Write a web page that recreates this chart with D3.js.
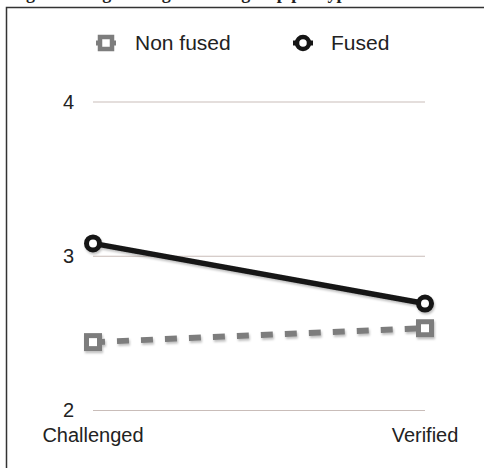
<!DOCTYPE html>
<html lang="en">
<head>
    <meta charset="UTF-8">
    <title>Fused vs non fused</title>
    <script src="https://d3js.org/d3.v7.min.js"></script>
    <style>
        body { margin: 0; background: #fff; }
        #chart text { font-family: "Liberation Sans", Arial, sans-serif; fill: #222; }
        .grid line { stroke: #c9bdb9; stroke-width: 1.2px; }
    </style>
</head>
<body>
    <div id="chart"></div>

    <script>
        const categories = ["Challenged", "Verified"];
        const nonFused = [2.44, 2.53];
        const fused = [3.08, 2.69];
        const yTicks = [2, 3, 4];

        const width = 484, height = 468;

        const svg = d3.select("#chart").append("svg")
            .attr("width", width)
            .attr("height", height);

        // soft shadow under the marks
        const defs = svg.append("defs");
        defs.append("filter").attr("id", "shadow")
            .attr("x", "-20%").attr("y", "-20%").attr("width", "140%").attr("height", "160%")
            .append("feDropShadow")
            .attr("dx", 1).attr("dy", 2).attr("stdDeviation", 1.2)
            .attr("flood-color", "#000").attr("flood-opacity", 0.25);

        // caption, cut off above the frame as in the source
        svg.append("text")
            .attr("x", 10).attr("y", -1.5)
            .style("font-family", "'Liberation Serif', serif")
            .style("font-weight", "bold")
            .style("font-size", "18px")
            .text("Fig. 4 Average ratings in each group per type");

        // frame
        svg.append("path")
            .attr("d", `M6.5,${height} V7.5 H${width}`)
            .attr("fill", "none")
            .attr("stroke", "#333")
            .attr("stroke-width", 1.5);

        const x = d3.scalePoint().domain(categories).range([93, 425]);
        const y = d3.scaleLinear().domain([2, 4]).range([410, 101.5]);

        // gridlines + y labels
        const grid = svg.append("g").attr("class", "grid")
            .attr("transform", "translate(93,0)")
            .call(d3.axisLeft(y).tickValues(yTicks).tickSize(-(425 - 93)).tickFormat(""));
        grid.select(".domain").remove();

        svg.append("g").selectAll("text")
            .data(yTicks).enter().append("text")
            .attr("x", 74)
            .attr("y", d => y(d))
            .attr("dy", "0.35em")
            .attr("text-anchor", "end")
            .style("font-size", "20px")
            .text(d => d);

        // category labels
        svg.append("g").selectAll("text")
            .data(categories).enter().append("text")
            .attr("x", d => x(d))
            .attr("y", 442)
            .attr("text-anchor", "middle")
            .style("font-size", "20px")
            .text(d => d);

        const line = d3.line().x((d, i) => x(categories[i])).y(d => y(d));

        const marks = svg.append("g").attr("filter", "url(#shadow)");

        // non fused: grey dashed, squares
        marks.append("path")
            .datum(nonFused)
            .attr("d", line)
            .attr("fill", "none")
            .attr("stroke", "#7d7d7d")
            .attr("stroke-width", 6)
            .attr("stroke-dasharray", "12,12");

        marks.selectAll(".sq")
            .data(nonFused).enter().append("rect")
            .attr("class", "sq")
            .attr("x", (d, i) => x(categories[i]) - 6.5)
            .attr("y", d => y(d) - 6.5)
            .attr("width", 13).attr("height", 13)
            .attr("fill", "#fff")
            .attr("stroke", "#7d7d7d")
            .attr("stroke-width", 5);

        // fused: black solid, circles
        marks.append("path")
            .datum(fused)
            .attr("d", line)
            .attr("fill", "none")
            .attr("stroke", "#151515")
            .attr("stroke-width", 5.5);

        marks.selectAll(".dot")
            .data(fused).enter().append("circle")
            .attr("class", "dot")
            .attr("cx", (d, i) => x(categories[i]))
            .attr("cy", d => y(d))
            .attr("r", 6.5)
            .attr("fill", "#fff")
            .attr("stroke", "#151515")
            .attr("stroke-width", 5);

        // legend
        const legend = svg.append("g");
        const lgY = 43;

        const l1 = legend.append("g").attr("transform", `translate(106,${lgY})`);
        l1.append("line").attr("x1", -10).attr("x2", 10)
            .attr("stroke", "#7d7d7d").attr("stroke-width", 5);
        l1.append("rect").attr("x", -6).attr("y", -6).attr("width", 12).attr("height", 12)
            .attr("fill", "#fff").attr("stroke", "#7d7d7d").attr("stroke-width", 4.5);
        legend.append("text").attr("x", 135).attr("y", lgY).attr("dy", "0.35em")
            .style("font-size", "21px").text("Non fused");

        const l2 = legend.append("g").attr("transform", `translate(303,${lgY})`);
        l2.append("line").attr("x1", -10).attr("x2", 10)
            .attr("stroke", "#151515").attr("stroke-width", 5);
        l2.append("circle").attr("r", 6)
            .attr("fill", "#fff").attr("stroke", "#151515").attr("stroke-width", 4.5);
        legend.append("text").attr("x", 331).attr("y", lgY).attr("dy", "0.35em")
            .style("font-size", "21px").text("Fused");
    </script>
</body>
</html>
